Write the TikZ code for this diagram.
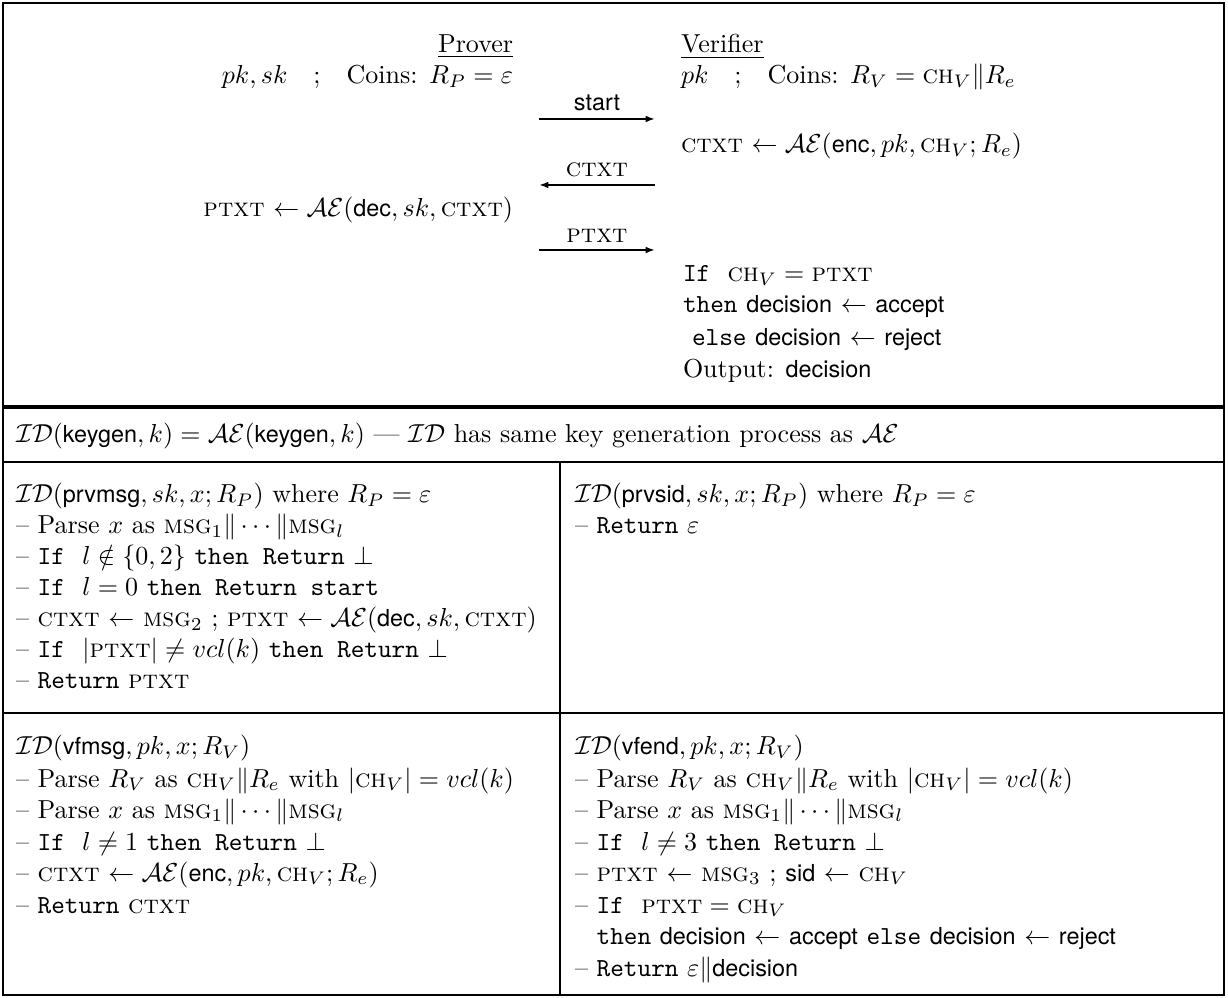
\documentclass[tikz,border=0pt]{standalone}
\usepackage{amsmath}
\usepackage{fontspec}
\setsansfont[Scale=0.9]{TeX Gyre Heros}
\usetikzlibrary{arrows.meta}
\newcommand{\zC}{\textsc{ctxt}}
\newcommand{\zP}{\textsc{ptxt}}
\newcommand{\zCH}{\textsc{ch}}
\newcommand{\zM}{\textsc{msg}}
\newcommand{\zID}{\mathcal{ID}}
\newcommand{\zAE}{\mathcal{AE}}
\newcommand{\zsf}[1]{\textsf{#1}}
\newcommand{\ztt}[1]{\texttt{#1}}
\newcommand{\zdash}{--\ }
\tikzset{
  tw/.style={inner sep=0pt, outer sep=0pt, anchor=base west},
  te/.style={inner sep=0pt, outer sep=0pt, anchor=base east},
  conn/.style={line width=0.7pt, -{Latex[length=3.6pt,width=2.6pt]}},
  lab/.style={midway, above=2.6pt, inner sep=0pt},
  frame/.style={line width=1.1pt},
  thickrule/.style={line width=1.6pt},
  rule/.style={line width=1.1pt}
}
\begin{document}
\begin{tikzpicture}[x=0.3846pt, y=-0.3846pt]
\useasboundingbox (0,0) rectangle (1228,998);
% frame and rules
\draw[frame] (3,3) rectangle (1224,995);
\draw[thickrule] (3,407) -- (1224,407);
\draw[rule] (3,462) -- (1224,462);
\draw[rule] (3,713) -- (1224,713);
\draw[rule] (560,462) -- (560,995);

% ---- protocol ----
\node[te] (prover) at (513,53) {\underline{Prover}};
\node[te] (pinit) at (513,84) {$pk, sk$\quad;\quad Coins: $R_P = \varepsilon$};
\node[tw] (verifier) at (681,53) {\underline{Verifier}};
\node[tw] (vinit) at (681,84) {$pk$\quad;\quad Coins: $R_V = \text{\zCH}_V \| R_e$};
\node[tw] (venc) at (681,153) {\zC{} $\leftarrow \zAE(\text{\zsf{enc}}, pk, \text{\zCH}_V; R_e)$};
\node[te] (pdec) at (513,217) {\zP{} $\leftarrow \zAE(\text{\zsf{dec}}, sk, \text{\zC})$};
\node[tw] (vif) at (683,282) {\ztt{If}\ \ $\text{\zCH}_V = \text{\zP}$};
\node[tw] (vthen) at (683,313) {\ztt{then} \zsf{decision} $\leftarrow$ \zsf{accept}};
\node[tw] (velse) at (692,346) {\ztt{else} \zsf{decision} $\leftarrow$ \zsf{reject}};
\node[tw] (vout) at (683,378) {Output: \zsf{decision}};

\coordinate (a1l) at (539,119); \coordinate (a1r) at (655,119);
\coordinate (a2l) at (539,185); \coordinate (a2r) at (655,185);
\coordinate (a3l) at (539,250); \coordinate (a3r) at (655,250);
\draw[conn] (a1l) -- node[lab] (l1) {\zsf{start}} (a1r);
\draw[conn] (a2r) -- node[lab] (l2) {\zC} (a2l);
\draw[conn] (a3l) -- node[lab] (l3) {\zP} (a3r);

% ---- keygen ----
\node[tw] (keygen) at (16,443) {$\zID(\text{\zsf{keygen}}, k) = \zAE(\text{\zsf{keygen}}, k)$ --- $\zID$ has same key generation process as $\zAE$};

% ---- prvmsg ----
\node[tw] (pm1) at (16,503) {$\zID(\text{\zsf{prvmsg}}, sk, x; R_P)$ where $R_P = \varepsilon$};
\node[tw] (pm2) at (16,534) {\zdash Parse $x$ as \zM$_1\|\cdots\|$\zM$_l$};
\node[tw] (pm3) at (16,565) {\zdash \ztt{If}\ \ $l \notin \{0,2\}$ \ztt{then Return} $\bot$};
\node[tw] (pm4) at (16,596) {\zdash \ztt{If}\ \ $l = 0$ \ztt{then Return start}};
\node[tw] (pm5) at (16,627) {\zdash \zC{} $\leftarrow$ \zM$_2$ ; \zP{} $\leftarrow \zAE(\text{\zsf{dec}}, sk, \text{\zC})$};
\node[tw] (pm6) at (16,658) {\zdash \ztt{If}\ \ $|\text{\zP}| \neq vcl(k)$ \ztt{then Return} $\bot$};
\node[tw] (pm7) at (16,689) {\zdash \ztt{Return} \zP};

% ---- prvsid ----
\node[tw] (ps1) at (575,503) {$\zID(\text{\zsf{prvsid}}, sk, x; R_P)$ where $R_P = \varepsilon$};
\node[tw] (ps2) at (575,534) {\zdash \ztt{Return} $\varepsilon$};

% ---- vfmsg ----
\node[tw] (vm1) at (16,755) {$\zID(\text{\zsf{vfmsg}}, pk, x; R_V)$};
\node[tw] (vm2) at (16,787) {\zdash Parse $R_V$ as \zCH$_V\|R_e$ with $|\text{\zCH}_V| = vcl(k)$};
\node[tw] (vm3) at (16,818) {\zdash Parse $x$ as \zM$_1\|\cdots\|$\zM$_l$};
\node[tw] (vm4) at (16,850) {\zdash \ztt{If}\ \ $l \neq 1$ \ztt{then Return} $\bot$};
\node[tw] (vm5) at (16,881) {\zdash \zC{} $\leftarrow \zAE(\text{\zsf{enc}}, pk, \text{\zCH}_V; R_e)$};
\node[tw] (vm6) at (16,913) {\zdash \ztt{Return} \zC};

% ---- vfend ----
\node[tw] (ve1) at (575,755) {$\zID(\text{\zsf{vfend}}, pk, x; R_V)$};
\node[tw] (ve2) at (575,787) {\zdash Parse $R_V$ as \zCH$_V\|R_e$ with $|\text{\zCH}_V| = vcl(k)$};
\node[tw] (ve3) at (575,818) {\zdash Parse $x$ as \zM$_1\|\cdots\|$\zM$_l$};
\node[tw] (ve4) at (575,850) {\zdash \ztt{If}\ \ $l \neq 3$ \ztt{then Return} $\bot$};
\node[tw] (ve5) at (575,881) {\zdash \zP{} $\leftarrow$ \zM$_3$ ; \zsf{sid} $\leftarrow$ \zCH$_V$};
\node[tw] (ve6) at (575,913) {\zdash \ztt{If}\ \ $\text{\zP} = \text{\zCH}_V$};
\node[tw] (ve7) at (575,944) {\phantom{\zdash}\ztt{then} \zsf{decision} $\leftarrow$ \zsf{accept} \ztt{else} \zsf{decision} $\leftarrow$ \zsf{reject}};
\node[tw] (ve8) at (575,976) {\zdash \ztt{Return} $\varepsilon\|$\zsf{decision}};
\end{tikzpicture}
\end{document}
